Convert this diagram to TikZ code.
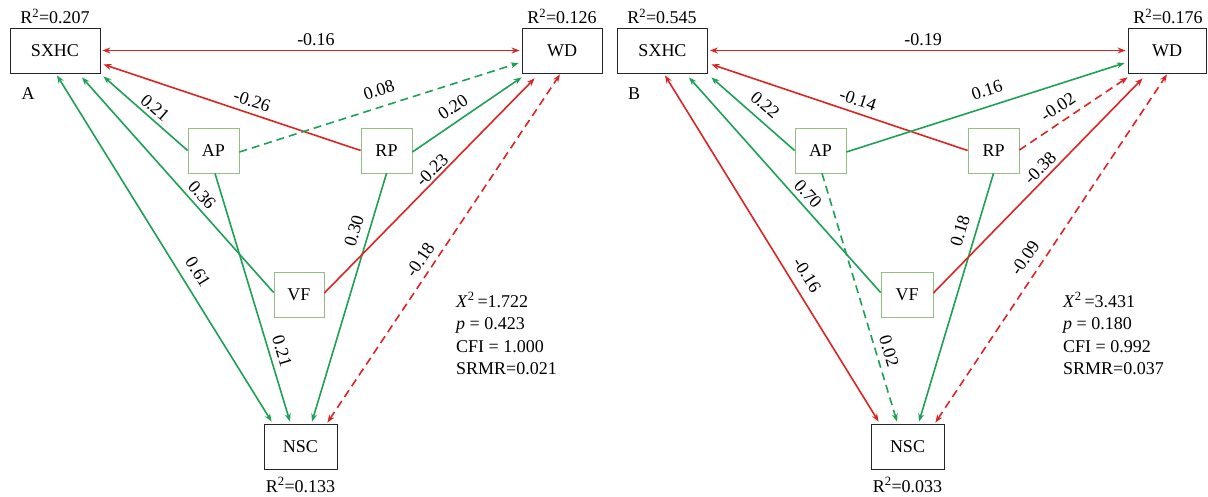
\documentclass[tikz,border=0pt]{standalone}
\usepackage{fontspec}
\setmainfont{Liberation Serif}
\newfontfamily\tnr{Liberation Serif}
\usetikzlibrary{arrows.meta}
\definecolor{pred}{RGB}{218,37,36}
\definecolor{pgreen}{RGB}{30,160,85}
\definecolor{pbox}{RGB}{150,190,130}
\tikzset{
  every node/.style={font=\tnr\fontsize{18}{21}\selectfont, inner sep=0pt},
  mainbox/.style={draw=black!85, line width=0.8pt, minimum height=45pt},
  varbox/.style={draw=pbox, line width=0.8pt, minimum width=51pt, minimum height=45pt},
  tip/.style={-{Stealth[length=8pt,width=6pt]}},
  both/.style={{Stealth[length=8pt,width=6pt]}-{Stealth[length=8pt,width=6pt]}},
  negline/.style={draw=pred, line width=1.6pt},
  posline/.style={draw=pgreen, line width=1.6pt},
  dsh/.style={dash pattern=on 8pt off 5pt},
  stat/.style={anchor=base west},
}
\begin{document}
\begin{tikzpicture}[x=1pt,y=-1pt]
\useasboundingbox (0,0) rectangle (1208,497);

% ---------------- Panel A ----------------
\node[mainbox, minimum width=90pt] (aS) at (55,50.5) {SXHC};
\node[mainbox, minimum width=80pt] (aW) at (562,50.5) {WD};
\node[mainbox, minimum width=73pt] (aN) at (300.5,446.5) {NSC};
\node[varbox] (aA) at (213.5,150.5) {AP};
\node[varbox] (aR) at (386.5,150.5) {RP};
\node[varbox, minimum width=50pt] (aV) at (299,294.5) {VF};

\node[anchor=base] (aSr) at (55,24) {R\textsuperscript{2}=0.207};
\node[anchor=base] (aWr) at (562,24) {R\textsuperscript{2}=0.126};
\node[anchor=base] (aNr) at (300.5,492) {R\textsuperscript{2}=0.133};
\node[anchor=base] (aLetter) at (28,100) {A};

\draw[negline,both] ([xshift=2pt]aS.east) -- ([xshift=-2pt]aW.west);
\draw[negline,tip] (aR.west) -- ([shift={(3,-9)}]aS.south east);
\draw[posline,tip] (aA.west) -- ([shift={(3,3)}]aS.south east);
\draw[posline,tip] ([shift={(0,-2)}]aV.west) -- ([shift={(27,4)}]aS.south);
\draw[posline,both] ([shift={(2,2)}]aS.south) -- ([shift={(8,-2)}]aN.north west);
\draw[posline,tip] ([shift={(1.5,0)}]aA.south) -- ([shift={(-10.5,-2)}]aN.north);
\draw[posline,tip] (aR.south) -- ([shift={(11.5,-2)}]aN.north);
\draw[negline,tip] ([shift={(0,-1.5)}]aV.east) -- ([shift={(13,5)}]aW.south west);
\draw[negline,dsh,both] ([shift={(-10,-1)}]aN.north east) -- ([shift={(-2,1)}]aW.south);
\draw[posline,tip] ([shift={(0,1.5)}]aR.east) -- ([shift={(0,4)}]aW.south west);
\draw[posline,dsh,tip] ([shift={(0,1.5)}]aA.east) -- ([shift={(-3,12.5)}]aW.west);

\node (aL1) at (316,40) {-0.16};
\node[rotate=-19] (aL2) at (252,101) {-0.26};
\node[rotate=-41] (aL3) at (155,108) {0.21};
\node[rotate=18] (aL4) at (379,90) {0.08};
\node[rotate=34] (aL5) at (453,107) {0.20};
\node[rotate=45] (aL6) at (432,170) {-0.23};
\node[rotate=-48] (aL7) at (202,195) {0.36};
\node[rotate=-58] (aL8) at (198,272) {0.61};
\node[rotate=-73] (aL9) at (282,351) {0.21};
\node[rotate=73] (aL10) at (354,231) {0.30};
\node[rotate=56] (aL11) at (420,260) {-0.18};

\node[stat] (aT1) at (456,307) {\textit{X}\textsuperscript{2}\,=1.722};
\node[stat] (aT2) at (456,329.5) {\textit{p} = 0.423};
\node[stat] (aT3) at (456,352) {CFI = 1.000};
\node[stat] (aT4) at (456,374.5) {SRMR=0.021};

% ---------------- Panel B ----------------
\begin{scope}[shift={(607,0)}]
\node[mainbox, minimum width=90pt] (bS) at (55.5,50.5) {SXHC};
\node[mainbox, minimum width=78pt] (bW) at (560,50.5) {WD};
\node[mainbox, minimum width=73pt] (bN) at (300.5,446.5) {NSC};
\node[varbox] (bA) at (213.5,150.5) {AP};
\node[varbox] (bR) at (386.5,150.5) {RP};
\node[varbox, minimum width=52pt] (bV) at (300,294.5) {VF};

\node[anchor=base] (bSr) at (55,24) {R\textsuperscript{2}=0.545};
\node[anchor=base] (bWr) at (561,24) {R\textsuperscript{2}=0.176};
\node[anchor=base] (bNr) at (300.5,492) {R\textsuperscript{2}=0.033};
\node[anchor=base] (bLetter) at (27,100) {B};

\draw[negline,both] ([xshift=2pt]bS.east) -- ([xshift=-2pt]bW.west);
\draw[negline,tip] (bR.west) -- ([shift={(3.5,-9)}]bS.south east);
\draw[posline,tip] (bA.west) -- ([shift={(3.5,4)}]bS.south east);
\draw[posline,tip] ([shift={(0,-2)}]bV.west) -- ([shift={(26.5,4)}]bS.south);
\draw[negline,both] ([shift={(2.5,2)}]bS.south) -- ([shift={(8,-2)}]bN.north west);
\draw[posline,dsh,tip] ([shift={(1.5,0)}]bA.south) -- ([shift={(-10.5,-2)}]bN.north);
\draw[posline,tip] (bR.south) -- ([shift={(11.5,-2)}]bN.north);
\draw[negline,tip] ([shift={(0,-1.5)}]bV.east) -- ([shift={(15,5)}]bW.south west);
\draw[negline,dsh,both] ([shift={(-9,-1)}]bN.north east) -- ([shift={(0,1)}]bW.south);
\draw[negline,dsh,tip] ([shift={(0,-0.5)}]bR.east) -- ([shift={(0,4)}]bW.south west);
\draw[posline,tip] ([shift={(0,1.5)}]bA.east) -- ([shift={(-3,12.5)}]bW.west);

\node (bL1) at (316,40) {-0.19};
\node[rotate=-18.5] (bL2) at (251,100) {-0.14};
\node[rotate=-41] (bL3) at (158,105) {0.22};
\node[rotate=18] (bL4) at (380,90) {0.16};
\node[rotate=34] (bL5) at (451,107) {-0.02};
\node[rotate=45.7] (bL6) at (433,168) {-0.38};
\node[rotate=-48] (bL7) at (201,194) {0.70};
\node[rotate=-58] (bL8) at (200,275) {-0.16};
\node[rotate=-73] (bL9) at (282,351) {0.02};
\node[rotate=73] (bL10) at (353,231) {0.18};
\node[rotate=56] (bL11) at (418,258) {-0.09};

\node[stat] (bT1) at (456,307) {\textit{X}\textsuperscript{2}\,=3.431};
\node[stat] (bT2) at (456,329.5) {\textit{p} = 0.180};
\node[stat] (bT3) at (456,352) {CFI = 0.992};
\node[stat] (bT4) at (456,374.5) {SRMR=0.037};
\end{scope}
\end{tikzpicture}
\end{document}
